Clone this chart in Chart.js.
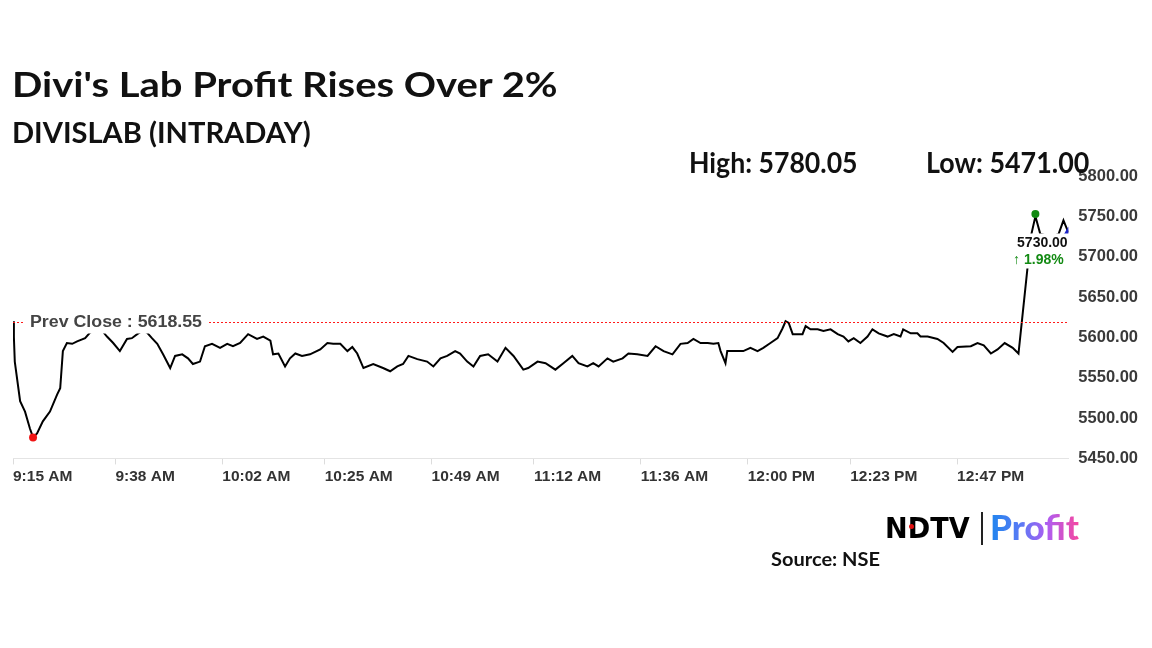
<!DOCTYPE html>
<html>
<head>
<meta charset="utf-8">
<script src="https://cdn.jsdelivr.net/npm/chart.js@4.4.1/dist/chart.umd.min.js"></script>
<style>
body{margin:0;width:1152px;height:648px;background:#fff;overflow:hidden;position:relative;font-family:Lato,sans-serif}
#box{position:absolute;left:0;top:0;width:1152px;height:648px}
.t{position:absolute;white-space:nowrap;font-weight:700;color:#111;line-height:1;transform-origin:0 0}
#bar{position:absolute;left:981px;top:512px;width:2px;height:33px;background:#222}
#dot{position:absolute;left:909px;top:524px;width:5px;height:5px;border-radius:50%;background:#e01010}
#profit{background:linear-gradient(90deg,#1f86ee 0%,#5b7af5 35%,#b05cf0 65%,#f6479f 100%);-webkit-background-clip:text;background-clip:text;color:transparent}
</style>
</head>
<body>
<div id="box"><canvas id="chart" width="1152" height="648"></canvas></div>

<div class="t" id="title" style="left:12px;top:66px;font-size:35px">Divi's Lab Profit Rises Over 2%</div>
<div class="t" id="sub" style="left:12px;top:118px;font-size:28px">DIVISLAB (INTRADAY)</div>
<div class="t" id="high" style="left:689px;top:147px;font-size:29px">High: 5780.05</div>
<div class="t" id="low" style="left:926px;top:147px;font-size:29px">Low: 5471.00</div>
<div class="t" id="ndtv" style="left:885px;top:514px;font-size:29px;font-family:'DejaVu Sans';color:#000">NDTV</div>
<div id="dot"></div>
<div id="bar"></div>
<div class="t" id="profit" style="left:990px;top:509px;font-size:35px;font-weight:900">Profit</div>
<div class="t" id="source" style="left:771px;top:550px;font-size:18px">Source: NSE</div>

<script>
// minutes after 9:15 AM and the traded price
const minutes = [0, 0.2, 0.4, 1.6, 2.7, 3.8, 4.5, 5.4, 6.7, 8.3, 9.9, 10.6, 11.2, 12.1, 13.3, 14.4, 16.2,
  17.3, 18.9, 20.2, 21.1, 22.5, 24.0, 25.6, 26.7, 27.9, 29.0, 30.1, 31.2, 32.4, 33.7, 35.3, 36.4,
  38.0, 39.3, 40.4, 42.0, 43.1, 44.7, 46.5, 48.1, 49.4, 51.0, 52.8, 54.8, 56.2, 57.8, 58.4, 59.6,
  61.1, 62.2, 63.4, 64.9, 66.7, 69.0, 70.6, 71.9, 73.5, 75.1, 76.2, 77.3, 78.7, 80.9, 83.1, 84.7,
  86.3, 87.6, 88.8, 90.8, 93.0, 94.4, 96.0, 97.5, 99.3, 100.4, 102.0, 103.4, 104.9, 106.7, 108.8,
  110.6, 112.4, 114.6, 115.7, 117.8, 119.6, 121.8, 123.6, 125.6, 127.0, 129.0, 130.3, 131.5, 133.5,
  134.8, 136.9, 138.2, 140.2, 142.5, 144.3, 146.1, 148.1, 149.9, 151.5, 152.8, 154.4, 156.0, 157.3,
  158.4, 158.9, 160.0, 160.4, 161.8, 164.0, 165.6, 167.2, 168.5, 170.1, 171.7, 172.8, 173.5, 174.2,
  175.1, 176.2, 177.3, 178.0, 179.1, 180.7, 182.0, 183.6, 185.2, 186.5, 187.6, 188.8, 190.3, 191.9,
  193.0, 194.4, 196.4, 197.8, 199.3, 199.9, 201.6, 203.1, 203.8, 205.4, 207.6, 209.0, 211.0, 212.1,
  215.1, 216.6, 218.0, 219.6, 221.1, 222.7, 224.5, 225.8, 227.8, 228.7, 229.6, 230.7, 233.0, 234.8,
  235.9, 237.0];
const prices = [5620, 5600, 5570, 5521, 5508, 5487, 5476, 5481, 5496, 5508, 5529, 5537, 5583, 5593, 5592, 5595, 5599,
  5606, 5610, 5607, 5601, 5593, 5583, 5598, 5599, 5604, 5608, 5606, 5599, 5592, 5579, 5562, 5577,
  5579, 5574, 5567, 5570, 5589, 5592, 5587, 5592, 5589, 5593, 5604, 5598, 5601, 5596, 5579, 5580,
  5564, 5574, 5580, 5577, 5579, 5585, 5593, 5592, 5592, 5583, 5588, 5580, 5562, 5567, 5562, 5558,
  5564, 5567, 5577, 5573, 5570, 5564, 5574, 5577, 5583, 5580, 5570, 5564, 5577, 5579, 5570,
  5587, 5577, 5560, 5562, 5570, 5568, 5560, 5568, 5577, 5568, 5564, 5568, 5564, 5574,
  5570, 5574, 5580, 5579, 5577, 5589, 5583, 5579, 5592, 5593, 5598, 5593, 5593, 5592,
  5593, 5583, 5568, 5583, 5583, 5583, 5587, 5583, 5587, 5593, 5599, 5611, 5620, 5618,
  5604, 5604, 5604, 5614, 5610, 5610, 5608, 5610, 5604, 5601, 5595, 5599, 5593, 5601,
  5610, 5605, 5601, 5604, 5601, 5610, 5605, 5605, 5601, 5601, 5598, 5593, 5582, 5588,
  5589, 5593, 5590, 5580, 5585, 5593, 5587, 5580, 5685, 5728, 5750, 5728, 5725, 5728,
  5745, 5730];

const tickMinutes = [0, 23, 47, 70, 94, 117, 141, 165, 188, 212];
const tickLabels = ['9:15 AM', '9:38 AM', '10:02 AM', '10:25 AM', '10:49 AM', '11:12 AM', '11:36 AM', '12:00 PM', '12:23 PM', '12:47 PM'];
const yMin = 5450, yMax = 5800, yStep = 50;
const endMinute = 237;

const prevClose = 5618.55;
const lowMark = [4.5, 5476];
const highMark = [229.6, 5753];
const lastPrice = 5730.00;
const changePct = 1.98;

function fit(id, w){
  const el = document.getElementById(id);
  el.style.transform = 'scaleX(' + (w / el.offsetWidth) + ')';
}
fit('title', 546);
fit('sub', 299);
fit('high', 169);
fit('low', 163);
fit('ndtv', 85);
fit('profit', 89);
fit('source', 109);

const overlay = {
  id: 'overlay',
  afterDatasetsDraw(chart){
    const {ctx, chartArea: a, scales: {x, y}} = chart;
    const py = Math.round(y.getPixelForValue(prevClose)) + 0.5;
    ctx.save();
    ctx.strokeStyle = '#ff1a1a';
    ctx.lineWidth = 1;
    ctx.setLineDash([2, 2]);
    ctx.beginPath();
    ctx.moveTo(a.left, py);
    ctx.lineTo(a.right, py);
    ctx.stroke();
    ctx.setLineDash([]);

    // prev close label
    ctx.fillStyle = '#fff';
    ctx.fillRect(a.left + 11, py - 11, 183, 22);
    ctx.font = 'bold 16px "Liberation Sans", Arial, sans-serif';
    ctx.textBaseline = 'middle';
    ctx.textAlign = 'left';
    const txt = 'Prev Close : ' + prevClose.toFixed(2);
    const w = ctx.measureText(txt).width;
    ctx.save();
    ctx.translate(a.left + 17, py);
    ctx.scale(172 / w, 1);
    ctx.fillStyle = '#444';
    ctx.fillText(txt, 0, 0);
    ctx.restore();

    // last price label
    const ly = y.getPixelForValue(lastPrice);
    const cx = a.right - 26;
    ctx.fillStyle = '#fff';
    ctx.fillRect(cx - 34, ly + 1, 70, 35);
    ctx.font = 'bold 14px "Liberation Sans", Arial, sans-serif';
    ctx.textAlign = 'center';
    ctx.fillStyle = '#111';
    ctx.fillText(lastPrice.toFixed(2), cx, ly + 11);
    ctx.fillStyle = '#138a13';
    ctx.fillText('\u2191 ' + changePct.toFixed(2) + '%', cx - 4, ly + 28);
    ctx.restore();
  }
};

const n = minutes.length;
new Chart(document.getElementById('chart'), {
  type: 'line',
  data: {
    datasets: [
      {
        data: minutes.map((m, i) => ({x: m, y: prices[i]})),
        borderColor: '#000',
        borderWidth: 2,
        pointRadius: 0,
        tension: 0,
        order: 3
      },
      {
        data: [{x: lowMark[0], y: lowMark[1]}],
        showLine: false,
        pointRadius: 4,
        pointBackgroundColor: '#f01414',
        pointBorderWidth: 0,
        order: 1
      },
      {
        data: [{x: highMark[0], y: highMark[1]}],
        showLine: false,
        pointRadius: 4,
        pointBackgroundColor: '#118a11',
        pointBorderWidth: 0,
        order: 1
      },
      {
        data: [{x: minutes[n - 1], y: prices[n - 1]}],
        showLine: false,
        pointStyle: 'triangle',
        pointRadius: 6,
        pointBackgroundColor: '#1a22c8',
        pointBorderWidth: 0,
        order: 1
      }
    ]
  },
  options: {
    responsive: false,
    animation: false,
    devicePixelRatio: 1,
    layout: {padding: {left: 13, top: 176, right: 4, bottom: 159}},
    plugins: {legend: {display: false}, tooltip: {enabled: false}},
    scales: {
      x: {
        type: 'linear',
        min: 0,
        max: endMinute,
        afterBuildTicks: (s) => { s.ticks = tickMinutes.map(v => ({value: v})); },
        ticks: {
          align: 'start',
          padding: 3,
          color: '#333',
          font: {family: '"Liberation Sans", Arial, sans-serif', size: 15.5, weight: 'bold'},
          callback: (v, i) => tickLabels[i]
        },
        grid: {drawOnChartArea: false, tickLength: 6, color: '#dcdcdc'},
        border: {color: '#e4e4e4'}
      },
      y: {
        position: 'right',
        min: yMin,
        max: yMax,
        ticks: {
          stepSize: yStep,
          padding: 10,
          color: '#3a3a3a',
          font: {family: '"Liberation Sans", Arial, sans-serif', size: 16.5, weight: 'bold'},
          callback: v => v.toFixed(2)
        },
        grid: {display: false, drawTicks: false},
        border: {display: false}
      }
    }
  },
  plugins: [overlay]
});
</script>
</body>
</html>
